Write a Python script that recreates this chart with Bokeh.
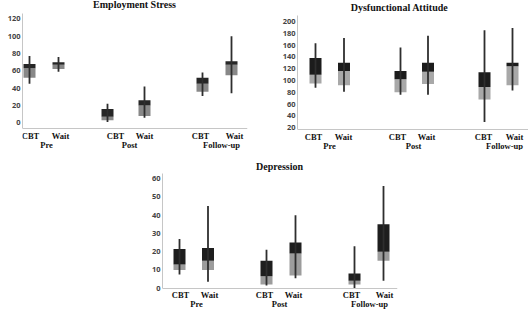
from bokeh.plotting import figure
from bokeh.models import (LinearAxis, FixedTicker, Range1d, Label, Spacer,
                          ColumnDataSource)
from bokeh.layouts import column, row
from bokeh.embed import file_html
from bokeh.resources import INLINE

# ---- data: order is Pre CBT, Pre Wait, Post CBT, Post Wait, Follow-up CBT, Follow-up Wait
groups = ["Pre", "Post", "Follow-up"]
arms = ["CBT", "Wait"]

stress_low = [45, 59, 1, 6, 31, 34]
stress_q1 = [52, 62, 3, 8, 36, 55]
stress_median = [63, 67, 7, 20, 45, 67]
stress_q3 = [68, 70, 16, 26, 52, 71]
stress_high = [77, 76, 22, 42, 58, 100]
stress_ticks = [0, 20, 40, 60, 80, 100, 120]

dys_low = [88, 81, 76, 76, 30, 83]
dys_q1 = [95, 92, 80, 94, 68, 92]
dys_median = [110, 116, 102, 115, 89, 124]
dys_q3 = [138, 130, 116, 130, 114, 130]
dys_high = [163, 172, 156, 176, 185, 189]
dys_ticks = [20, 40, 60, 80, 100, 120, 140, 160, 180, 200]

dep_low = [7.5, 3.5, 1.5, 5.5, 0, 4]
dep_q1 = [10, 10, 2, 7, 2, 15]
dep_median = [13, 15, 6.5, 19, 4, 20]
dep_q3 = [21.5, 22, 15, 25, 8, 35]
dep_high = [27, 45, 21, 40, 23, 56]
dep_ticks = [0, 10, 20, 30, 40, 50, 60]

# ---- slot layout along each x axis (frame units)
stress_slots = [7, 36, 85, 122, 180, 209]
stress_arm_ticks = [8, 38, 93, 122, 178, 212]
stress_group_ticks = [24, 107, 199]

dys_slots = [18, 46.5, 103, 130.5, 187, 215]
dys_arm_ticks = [16, 46, 100, 129, 186, 217]
dys_group_ticks = [32, 116, 207]

dep_slots = [17, 45.5, 104, 133, 192, 221]
dep_arm_ticks = [18, 47, 102, 131, 189, 222]
dep_group_ticks = [34, 117, 207]

AXIS_GREY = "#c6c6c6"
SERIF = "Liberation Serif"


def chart(title, low, q1, med, q3, high, yticks, view, axis_span, slots,
          arm_ticks, group_ticks, width, height, left, right, title_xy,
          dark="#1e1e1e", light="#a3a3a3"):
    frame_w = width - left - right
    p = figure(width=width, height=height, output_backend="svg",
               toolbar_location=None, x_axis_type=None, y_axis_type=None,
               x_range=Range1d(0, frame_w), y_range=Range1d(*view),
               min_border_left=left, min_border_right=right,
               min_border_top=0, min_border_bottom=0)
    p.outline_line_color = None
    p.background_fill_color = "white"
    p.border_fill_color = "white"

    src = ColumnDataSource(dict(x=slots, low=low, q1=q1, med=med, q3=q3, high=high))
    p.vbar(x="x", width=12, bottom="q1", top="med", source=src,
           fill_color=light, line_color=None)
    p.vbar(x="x", width=12, bottom="med", top="q3", source=src,
           fill_color=dark, line_color=None)
    p.segment(x0="x", x1="x", y0="low", y1="high", source=src,
              line_color="#2e2e2e", line_width=1.8)

    base, top = axis_span
    yax = LinearAxis(ticker=FixedTicker(ticks=yticks), bounds=(base, top),
                     axis_line_color=AXIS_GREY, axis_line_width=1,
                     major_tick_line_color=None, minor_tick_line_color=None,
                     major_tick_out=0, major_tick_in=0, major_label_standoff=2,
                     major_label_text_font="Noto Sans",
                     major_label_text_font_style="bold",
                     major_label_text_font_size="7.5px",
                     major_label_text_color="#444444")
    p.add_layout(yax, "left")

    label_style = dict(major_tick_line_color=None, minor_tick_line_color=None,
                       major_tick_out=0, major_tick_in=0,
                       major_label_text_font=SERIF,
                       major_label_text_font_style="bold",
                       major_label_text_font_size="8.5px",
                       major_label_text_color="#111111")

    arm_labels = {t: arms[i % 2] for i, t in enumerate(arm_ticks)}
    xax = LinearAxis(ticker=FixedTicker(ticks=arm_ticks), fixed_location=base,
                     major_label_overrides=arm_labels,
                     axis_line_color=AXIS_GREY, axis_line_width=1,
                     major_label_standoff=2, **label_style)
    p.add_layout(xax, "below")

    group_labels = {t: g for t, g in zip(group_ticks, groups)}
    gax = LinearAxis(ticker=FixedTicker(ticks=group_ticks), fixed_location=base,
                     major_label_overrides=group_labels, axis_line_color=None,
                     major_label_standoff=11, **label_style)
    p.add_layout(gax, "below")

    tx, ty = title_xy
    p.add_layout(Label(x=tx, y=ty, text=title, text_align="center",
                       text_baseline="alphabetic", text_font=SERIF,
                       text_font_style="bold", text_font_size="10px",
                       text_color="#111111"))
    return p


p1 = chart("Employment Stress", stress_low, stress_q1, stress_median,
           stress_q3, stress_high, stress_ticks, (-31.9, 141.1), (-6.9, 126.1),
           stress_slots, stress_arm_ticks, stress_group_ticks, 262, 150, 22, 15,
           (112, 136.8), dark="#262626", light="#888888")

p2 = chart("Dysfunctional Attitude", dys_low, dys_q1, dys_median, dys_q3,
           dys_high, dys_ticks, (-18.4, 235.5), (17.1, 210.2), dys_slots,
           dys_arm_ticks, dys_group_ticks, 266, 150, 35, 0, (102, 223.5),
           dark="#1c1c1c", light="#a8a8a8")

p3 = chart("Depression", dep_low, dep_q1, dep_median, dep_q3, dep_high,
           dep_ticks, (-12.8, 75.5), (-0.1, 62.7), dep_slots, dep_arm_ticks,
           dep_group_ticks, 270, 161, 32, 3, (117, 66.7),
           dark="#1e1e1e", light="#9c9c9c")

layout = column(row(p1, p2), row(Spacer(width=130, height=161), p3))

open("out.html", "w").write(file_html(layout, INLINE))
